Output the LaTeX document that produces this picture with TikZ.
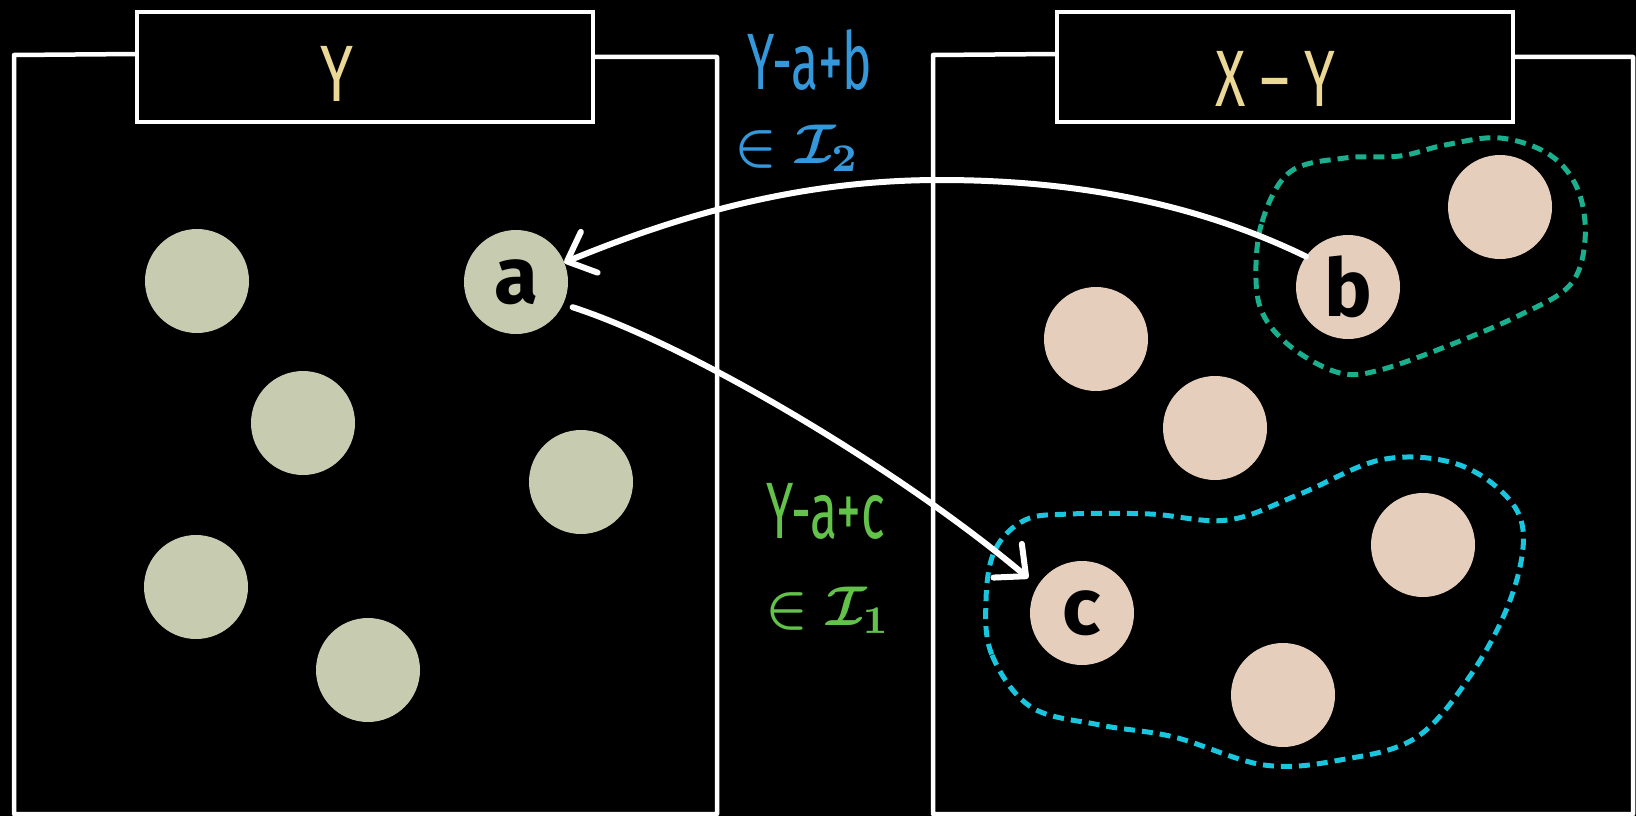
\documentclass[tikz,border=0pt]{standalone}
\usepackage{fontspec}
\setmainfont{Fira Sans}
\usepackage{graphicx}
\usetikzlibrary{arrows.meta,calc}
\definecolor{sage}{RGB}{199,203,176}
\definecolor{peach}{RGB}{229,206,188}
\definecolor{tealc}{RGB}{26,176,141}
\definecolor{cyanc}{RGB}{26,197,222}
\definecolor{lblue}{RGB}{52,152,219}
\definecolor{lgreen}{RGB}{98,194,74}
\definecolor{ylw}{RGB}{236,216,150}
\begin{document}
\begin{tikzpicture}[x=1pt,y=-1pt,
  frame/.style={draw=white,line width=4.5pt,line join=round,line cap=round},
  titlebox/.style={draw=white,line width=4.5pt,fill=black,minimum width=456pt,minimum height=110pt,inner sep=0pt},
  ttext/.style={inner sep=0pt,text=ylw,font=\fontsize{80}{90}\selectfont},
  gdot/.style={circle,fill=sage,minimum size=104pt,inner sep=0pt,outer sep=0pt,text=black,font=\fontsize{80}{90}\selectfont\bfseries},
  pdot/.style={gdot,fill=peach},
  arr/.style={draw=white,line width=6pt,line cap=round,-{Straight Barb[length=24pt,width=44pt,line cap=round,line join=round]}},
  lbl/.style={inner sep=0pt,font=\fontsize{80}{90}\selectfont},
  mlbl/.style={inner sep=0pt,font=\boldmath},
  tdash/.style={draw=tealc,line width=5pt,dash pattern=on 11pt off 7pt},
  cdash/.style={draw=cyanc,line width=5pt,dash pattern=on 11pt off 7pt},
]
\fill[black] (0,0) rectangle (1636,816);
\useasboundingbox (0,0) rectangle (1636,816);

% dashed groups
\draw[tdash] plot[smooth cycle,tension=0.6] coordinates {(1256,280) (1262,222) (1290,172) (1345,158) (1400,156) (1445,145) (1500,138) (1550,155) (1578,190) (1585,240) (1570,285) (1520,315) (1450,345) (1380,370) (1340,373) (1295,350) (1265,318)};
\draw[cdash] plot[smooth cycle,tension=0.6] coordinates {(986,600) (992,655) (1031,707) (1100,725) (1174,737) (1264,765) (1340,760) (1417,737) (1474,670) (1512,595) (1523,530) (1500,490) (1450,462) (1380,460) (1300,494) (1228,520) (1150,514) (1070,514) (1025,520) (995,550)};

% frames
\draw[frame] (137,54) -- (14,55) -- (14,814) -- (717,814) -- (717,57) -- (593,57);
\draw[frame] (1057,54) -- (933,55) -- (933,814) -- (1633,814) -- (1633,57) -- (1513,57);

% title boxes
\node[titlebox] (ty) at (365,67) {};
\node[titlebox] (txy) at (1285,67) {};
\node[ttext] (tyt) at (337,74) {\scalebox{0.75}[1]{Y}};
\node[ttext] (txyt) at (1275,79) {\scalebox{0.7}[1]{X – Y}};

% left set
\node[gdot] (g1) at (197,281) {};
\node[gdot] (a) at (516,282) {a};
\node[gdot] (g3) at (303,423) {};
\node[gdot] (g4) at (581,482) {};
\node[gdot] (g5) at (196,587) {};
\node[gdot] (g6) at (368,670) {};

% right set
\node[pdot] (b) at (1348,287) {b};
\node[pdot] (p2) at (1500,207) {};
\node[pdot] (p3) at (1096,339) {};
\node[pdot] (p4) at (1215,428) {};
\node[pdot] (c) at (1082,613) {c};
\node[pdot] (p6) at (1423,545) {};
\node[pdot] (p7) at (1283,695) {};

% arrows
\draw[arr] (b.144) .. controls (1200,205) and (1080,180) .. (940,180) .. controls (800,180) and (680,215) .. (a.22);
\draw[arr] ($(a.center)+(-24:62pt)$) .. controls (690,345) and (900,470) .. ($(c.center)+(147:64pt)$);

% labels
\node[lbl,text=lblue] (l1) at (810,60) {\scalebox{0.62}[1]{Y-a+b}};
\node[mlbl,text=lblue] (l2) at (797,148) {\scalebox{5.6}{$\in\mathcal{I}_2$}};
\node[lbl,text=lgreen] (l3) at (826,511) {\scalebox{0.62}[1]{Y-a+c}};
\node[mlbl,text=lgreen] (l4) at (828,610) {\scalebox{5.6}{$\in\mathcal{I}_1$}};
\end{tikzpicture}
\end{document}
